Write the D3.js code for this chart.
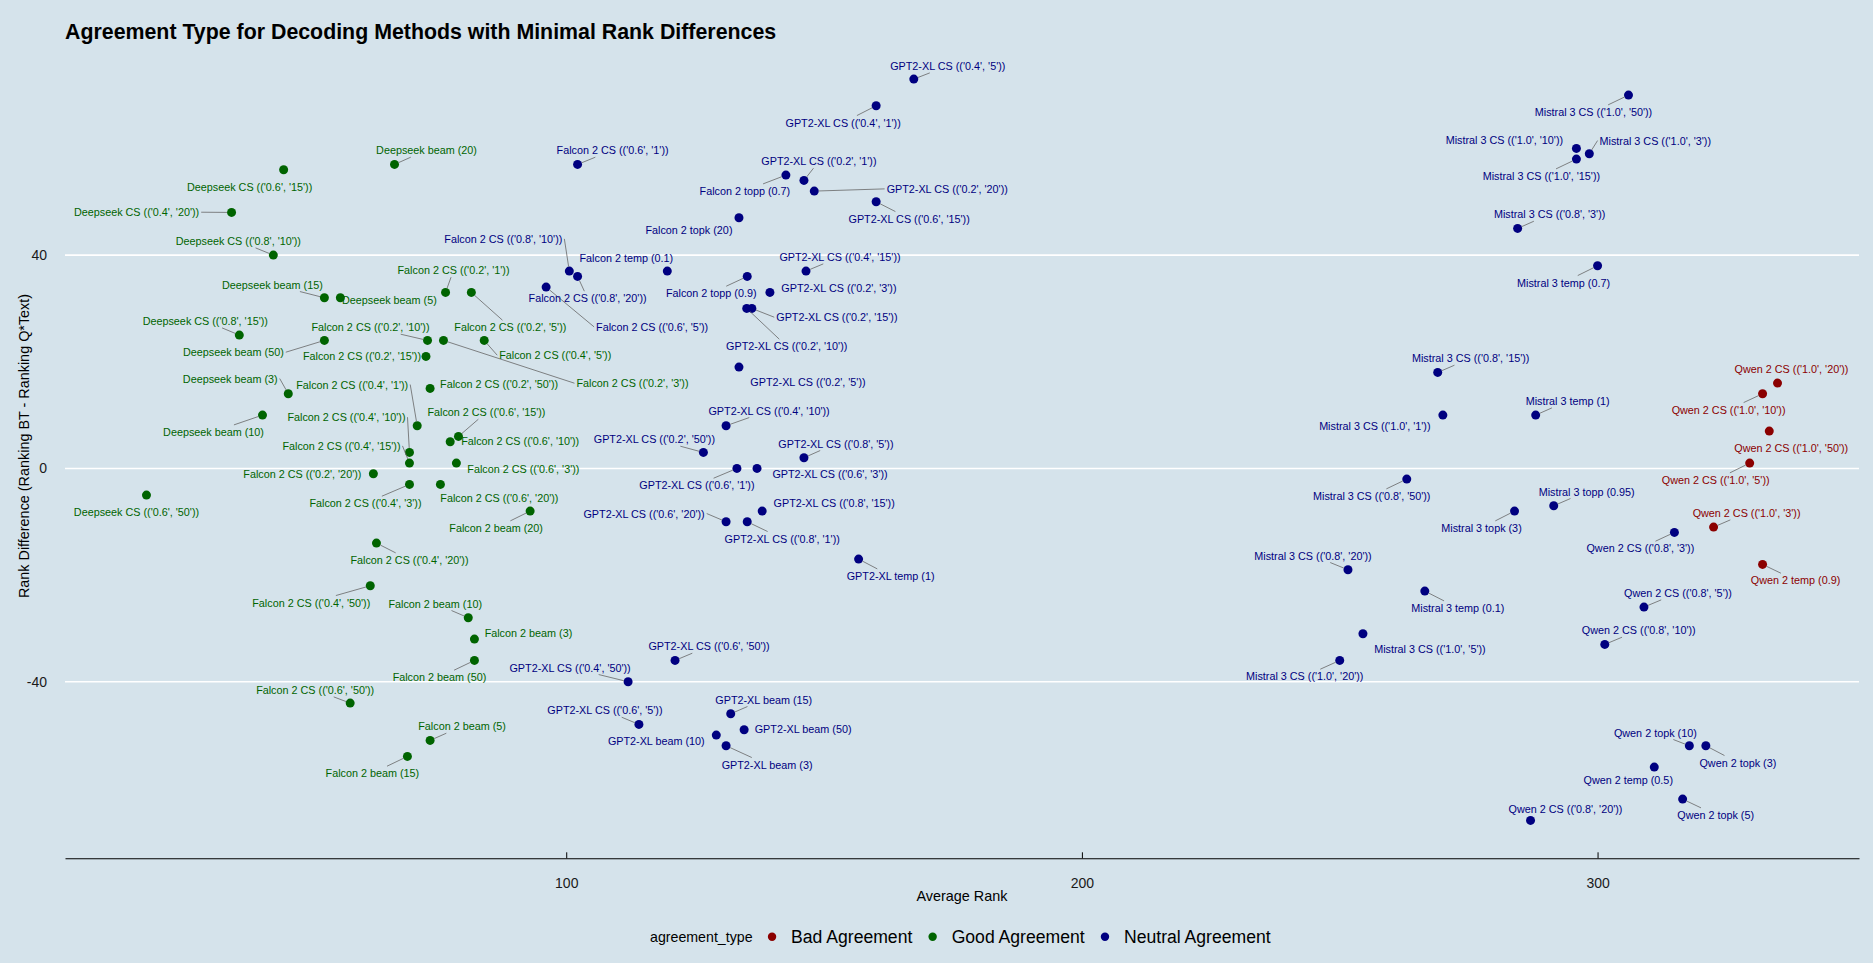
<!DOCTYPE html>
<html>
<head>
<meta charset="utf-8">
<script src="https://cdn.jsdelivr.net/npm/d3@7"></script>
<style>
    body { margin: 0; background: #d5e3eb; }
    text { font-family: "Liberation Sans", Arial, sans-serif; }
</style>
</head>
<body>
<div id="chart"></div>
<script>
// Decoding methods (one entry per point)
var methods = [
    "Deepseek CS (('0.6', '15'))", "Deepseek beam (20)", "Deepseek CS (('0.4', '20'))",
    "Deepseek CS (('0.8', '10'))", "Deepseek beam (15)", "Deepseek beam (5)",
    "Falcon 2 CS (('0.2', '1'))", "Falcon 2 CS (('0.2', '5'))", "Deepseek CS (('0.8', '15'))",
    "Deepseek beam (50)", "Falcon 2 CS (('0.2', '10'))", "Falcon 2 CS (('0.2', '15'))",
    "Falcon 2 CS (('0.2', '3'))", "Falcon 2 CS (('0.4', '5'))", "Deepseek beam (3)",
    "Falcon 2 CS (('0.4', '1'))", "Falcon 2 CS (('0.2', '50'))", "Deepseek beam (10)",
    "Falcon 2 CS (('0.4', '10'))", "Falcon 2 CS (('0.4', '15'))", "Falcon 2 CS (('0.6', '15'))",
    "Falcon 2 CS (('0.6', '10'))", "Falcon 2 CS (('0.6', '3'))", "Falcon 2 CS (('0.2', '20'))",
    "Falcon 2 CS (('0.4', '3'))", "Falcon 2 CS (('0.6', '20'))", "Falcon 2 beam (20)",
    "Deepseek CS (('0.6', '50'))", "Falcon 2 CS (('0.4', '20'))", "Falcon 2 CS (('0.4', '50'))",
    "Falcon 2 beam (10)", "Falcon 2 beam (3)", "Falcon 2 beam (50)",
    "Falcon 2 CS (('0.6', '50'))", "Falcon 2 beam (5)", "Falcon 2 beam (15)",
    "GPT2-XL CS (('0.4', '5'))", "GPT2-XL CS (('0.4', '1'))", "Falcon 2 CS (('0.6', '1'))",
    "GPT2-XL CS (('0.2', '1'))", "Falcon 2 topp (0.7)", "GPT2-XL CS (('0.2', '20'))",
    "GPT2-XL CS (('0.6', '15'))", "Falcon 2 topk (20)", "Falcon 2 CS (('0.8', '10'))",
    "Falcon 2 CS (('0.8', '20'))", "Falcon 2 temp (0.1)", "Falcon 2 CS (('0.6', '5'))",
    "GPT2-XL CS (('0.4', '15'))", "Falcon 2 topp (0.9)", "GPT2-XL CS (('0.2', '3'))",
    "GPT2-XL CS (('0.2', '15'))", "GPT2-XL CS (('0.2', '10'))", "GPT2-XL CS (('0.2', '5'))",
    "GPT2-XL CS (('0.4', '10'))", "GPT2-XL CS (('0.2', '50'))", "GPT2-XL CS (('0.8', '5'))",
    "GPT2-XL CS (('0.6', '1'))", "GPT2-XL CS (('0.6', '3'))", "GPT2-XL CS (('0.8', '15'))",
    "GPT2-XL CS (('0.6', '20'))", "GPT2-XL CS (('0.8', '1'))", "GPT2-XL temp (1)",
    "GPT2-XL CS (('0.6', '50'))", "GPT2-XL CS (('0.4', '50'))", "GPT2-XL CS (('0.6', '5'))",
    "GPT2-XL beam (15)", "GPT2-XL beam (50)", "GPT2-XL beam (10)", "GPT2-XL beam (3)",
    "Mistral 3 CS (('1.0', '50'))", "Mistral 3 CS (('1.0', '10'))", "Mistral 3 CS (('1.0', '3'))",
    "Mistral 3 CS (('1.0', '15'))", "Mistral 3 CS (('0.8', '3'))", "Mistral 3 temp (0.7)",
    "Mistral 3 CS (('0.8', '15'))", "Mistral 3 CS (('1.0', '1'))", "Mistral 3 temp (1)",
    "Mistral 3 CS (('0.8', '50'))", "Mistral 3 topp (0.95)", "Mistral 3 topk (3)",
    "Qwen 2 CS (('0.8', '3'))", "Mistral 3 CS (('0.8', '20'))", "Mistral 3 temp (0.1)",
    "Qwen 2 CS (('0.8', '5'))", "Mistral 3 CS (('1.0', '5'))", "Qwen 2 CS (('0.8', '10'))",
    "Mistral 3 CS (('1.0', '20'))", "Qwen 2 topk (10)", "Qwen 2 topk (3)",
    "Qwen 2 temp (0.5)", "Qwen 2 topk (5)", "Qwen 2 CS (('0.8', '20'))",
    "Qwen 2 CS (('1.0', '20'))", "Qwen 2 CS (('1.0', '10'))", "Qwen 2 CS (('1.0', '50'))",
    "Qwen 2 CS (('1.0', '5'))", "Qwen 2 CS (('1.0', '3'))", "Qwen 2 temp (0.9)"
];

// Average rank (x)
var avgRank = [
    45.2, 66.7, 35.1, 43.2, 53.1, 56.2, 76.6, 81.6, 36.6, 53.1, 73.1, 72.8,
    76.2, 84.1, 46.1, 71.1, 73.6, 41.1, 69.6, 69.6, 79.1, 77.5, 78.7, 62.6,
    69.6, 75.6, 93.0, 18.6, 63.2, 62.0, 81.0, 82.2, 82.2, 58.1, 73.6, 69.2,
    167.4, 160.1, 102.2, 146.1, 142.6, 148.1, 160.1, 133.5, 100.6, 102.2, 119.6, 96.1,
    146.5, 135.1, 139.5, 136.0, 135.0, 133.5, 131.0, 126.6, 146.1, 133.1, 137.0, 138.0,
    131.0, 135.1, 156.7, 121.1, 112.0, 114.1, 131.9, 134.5, 129.1, 131.0,
    306.0, 295.9, 298.4, 295.9, 284.5, 300.0, 269.0, 270.0, 288.0, 263.0, 291.5, 283.9,
    314.9, 251.6, 266.5, 309.0, 254.5, 301.4, 250.0, 317.8, 321.0, 311.0, 316.5, 287.0,
    334.9, 332.0, 333.3, 329.5, 322.5, 332.0
];

// Rank difference (y): Ranking BT - Ranking Q*Text
var rankDiff = [
    56, 57, 48, 40, 32, 32, 33, 33, 25, 24, 24, 21,
    24, 24, 14, 8, 15, 10, 3, 1, 6, 5, 1, -1,
    -3, -3, -8, -5, -14, -22, -28, -32, -36, -44, -51, -54,
    73, 68, 57, 54, 55, 52, 50, 47, 37, 36, 37, 34,
    37, 36, 33, 30, 30, 19, 8, 3, 2, 0, 0, -8,
    -10, -10, -17, -36, -40, -48, -46, -49, -50, -52,
    70, 60, 59, 58, 45, 38, 18, 10, 10, -2, -7, -8,
    -12, -19, -23, -26, -31, -33, -36, -52, -52, -56, -62, -66,
    16, 14, 7, 1, -11, -18
];

// Agreement type per point
var agreement = [].concat(
    d3.range(36).map(() => 'Good Agreement'),
    d3.range(58).map(() => 'Neutral Agreement'),
    d3.range(6).map(() => 'Bad Agreement')
);

var agreementTypes = ['Bad Agreement', 'Good Agreement', 'Neutral Agreement'];
var yTicks = [-40, 0, 40];
var xTicks = [100, 200, 300];

// Label placement (pixel offset of the label centre from its point), like repel output
var labelOffset = [
    [-34, 17], [32, -14], [-95, 0], [-35, -14], [-52, -13], [49, 2],
    [8, -22], [39, 35], [-34, -14], [-91, 12], [-57, -13], [-64, 0],
    [189, 43], [71, 15], [-58, -15], [-65, -41], [69, -4], [-49, 17],
    [-63, -35], [-68, -17], [28, -24], [70, -1], [67, 6], [-71, 0],
    [-44, 19], [59, 14], [-34, 17], [-10, 17], [33, 17], [-59, 17],
    [-33, -14], [54, -6], [-35, 17], [-35, -13], [32, -14], [-35, 17],
    [34, -13], [-33, 17], [35, -14], [15, -19], [-41, 16], [133, -2],
    [33, 17], [-50, 12], [-66, -32], [10, 22], [-41, -13], [106, 40],
    [34, -14], [-36, 17], [69, -4], [85, 9], [40, 38], [69, 15],
    [43, -15], [-49, -13], [32, -14], [-40, 17], [73, 6], [72, -8],
    [-82, -8], [35, 17], [32, 17], [34, -14], [-58, -14], [-34, -14],
    [33, -14], [59, -1], [-60, 6], [41, 19],
    [-35, 17], [-72, -8], [66, -13], [-35, 17], [32, -14], [-34, 17],
    [33, -14], [-68, 11], [32, -14], [-35, 17], [33, -14], [-33, 17],
    [-34, 16], [-35, -14], [33, 17], [34, -14], [67, 15], [34, -14],
    [-35, 16], [-34, -13], [32, 17], [-26, 13], [33, 16], [35, -11],
    [14, -14], [-34, 16], [22, 17], [-34, 17], [33, -14], [33, 16]
];

// Labels drawn without a leader segment
var noLeader = [
    "Deepseek CS (('0.6', '15'))", "Deepseek beam (5)", "Falcon 2 CS (('0.2', '15'))",
    "Falcon 2 CS (('0.2', '50'))", "Falcon 2 CS (('0.6', '10'))", "Falcon 2 CS (('0.6', '3'))",
    "Falcon 2 CS (('0.2', '20'))", "Falcon 2 CS (('0.6', '20'))", "Deepseek CS (('0.6', '50'))",
    "Falcon 2 beam (3)", "Falcon 2 topk (20)", "Falcon 2 temp (0.1)",
    "GPT2-XL CS (('0.2', '3'))", "GPT2-XL CS (('0.2', '5'))", "GPT2-XL CS (('0.6', '3'))",
    "GPT2-XL CS (('0.8', '15'))", "GPT2-XL beam (50)", "GPT2-XL beam (10)",
    "Mistral 3 CS (('1.0', '10'))", "Qwen 2 CS (('1.0', '20'))", "Mistral 3 CS (('1.0', '1'))",
    "Mistral 3 CS (('1.0', '5'))", "Qwen 2 CS (('1.0', '50'))", "Qwen 2 temp (0.5)",
    "Qwen 2 CS (('0.8', '20'))"
];

var data = methods.map((m, i) => ({
    method: m,
    rank: avgRank[i],
    diff: rankDiff[i],
    type: agreement[i],
    off: labelOffset[i]
}));

var chart_width  = 1873;
var chart_height = 963;
var panel = {left: 65, right: 1859, top: 41.4, bottom: 859.2};

var colors = d3.scaleOrdinal()
    .domain(agreementTypes)
    .range(['#8b0000', '#006400', '#000080']);

var svg = d3.select('#chart')
    .append('svg')
    .attr('width', chart_width)
    .attr('height', chart_height);

svg.append('rect')
    .attr('width', chart_width)
    .attr('height', chart_height)
    .attr('fill', '#d5e3eb');

// Scales
var x_scale = d3.scaleLinear()
    .domain([2.8, 350.7])
    .range([panel.left, panel.right]);

var y_scale = d3.scaleLinear()
    .domain([-73.27, 80.07])
    .range([panel.bottom, panel.top]);

// Horizontal grid
svg.append('g').selectAll('line')
    .data(yTicks)
    .enter()
    .append('line')
    .attr('x1', panel.left)
    .attr('x2', panel.right)
    .attr('y1', d => y_scale(d))
    .attr('y2', d => y_scale(d))
    .attr('stroke', '#ffffff')
    .attr('stroke-width', 1.6);

// Y tick labels
svg.append('g').selectAll('text')
    .data(yTicks)
    .enter()
    .append('text')
    .attr('x', 47)
    .attr('y', d => y_scale(d))
    .attr('dy', '0.35em')
    .attr('text-anchor', 'end')
    .attr('font-size', 14)
    .attr('fill', '#1a1a1a')
    .text(d => d);

// X axis
var x_axis = d3.axisBottom(x_scale)
    .tickValues(xTicks)
    .tickSizeInner(-6)
    .tickSizeOuter(0)
    .tickPadding(20);

var gx = svg.append('g')
    .attr('transform', `translate(0, ${panel.bottom - 0.9})`)
    .call(x_axis);
gx.select('.domain').attr('stroke', '#000').attr('stroke-width', 1.1);
gx.selectAll('.tick line').attr('stroke', '#000');
gx.selectAll('.tick text')
    .attr('font-size', 14)
    .attr('font-family', '"Liberation Sans", Arial, sans-serif')
    .attr('fill', '#1a1a1a');

// Axis titles
svg.append('text')
    .attr('x', (panel.left + panel.right) / 2)
    .attr('y', 901)
    .attr('text-anchor', 'middle')
    .attr('font-size', 14.4)
    .attr('fill', '#000')
    .text('Average Rank');

svg.append('text')
    .attr('transform', 'translate(24, 446) rotate(-90)')
    .attr('dy', '0.35em')
    .attr('text-anchor', 'middle')
    .attr('font-size', 14.4)
    .attr('fill', '#000')
    .text('Rank Difference (Ranking BT - Ranking Q*Text)');

// Title
svg.append('text')
    .attr('x', 65)
    .attr('y', 39)
    .attr('font-size', 21.35)
    .attr('font-weight', 'bold')
    .attr('fill', '#000')
    .text('Agreement Type for Decoding Methods with Minimal Rank Differences');

// Points
var r = 4.5;
svg.append('g').selectAll('circle')
    .data(data)
    .enter()
    .append('circle')
    .attr('cx', d => x_scale(d.rank))
    .attr('cy', d => y_scale(d.diff))
    .attr('r', r)
    .attr('fill', d => colors(d.type));

// Labels and their leader segments
var segLayer = svg.append('g');
var labels = svg.append('g').selectAll('text')
    .data(data)
    .enter()
    .append('text')
    .attr('x', d => x_scale(d.rank) + d.off[0])
    .attr('y', d => y_scale(d.diff) + d.off[1])
    .attr('dy', '0.35em')
    .attr('text-anchor', 'middle')
    .attr('font-size', 10.8)
    .attr('fill', d => colors(d.type))
    .text(d => d.method);

labels.each(function(d) {
    if (noLeader.includes(d.method)) return;
    var b = this.getBBox();
    var x1 = b.x - 2, x2 = b.x + b.width + 2;
    var cx = b.x + b.width / 2, cy = b.y + b.height / 2;
    var hh = b.height / 2 + 1;
    var px = x_scale(d.rank), py = y_scale(d.diff);
    var sx, sy;
    if (px < x1) { sx = x1; sy = cy; }
    else if (px > x2) { sx = x2; sy = cy; }
    else {
        // point above/below the label: cut the centre-to-point line at the box edge
        var dy = py - cy, dx = px - cx;
        var t = Math.min(1, hh / Math.abs(dy));
        sx = cx + dx * t;
        sy = cy + dy * t;
    }
    var len = Math.hypot(px - sx, py - sy);
    if (len < r + 2) return;
    var ex = px - (px - sx) / len * r, ey = py - (py - sy) / len * r;
    segLayer.append('line')
        .attr('x1', sx).attr('y1', sy)
        .attr('x2', ex).attr('y2', ey)
        .attr('stroke', '#666')
        .attr('stroke-width', 0.8);
});

// Legend
var legend = svg.append('g');
var lx = 650, ly = 936.7;
var lt = legend.append('text')
    .attr('x', lx)
    .attr('y', ly)
    .attr('dy', '0.35em')
    .attr('font-size', 14.2)
    .attr('fill', '#000')
    .text('agreement_type');
lx += lt.node().getComputedTextLength() + 19.5;
agreementTypes.forEach(function(t) {
    legend.append('circle')
        .attr('cx', lx)
        .attr('cy', ly)
        .attr('r', 4.2)
        .attr('fill', colors(t));
    var tx = legend.append('text')
        .attr('x', lx + 19)
        .attr('y', ly)
        .attr('dy', '0.35em')
        .attr('font-size', 17.6)
        .attr('fill', '#000')
        .text(t);
    lx += 19 + tx.node().getComputedTextLength() + 20.3;
});
</script>
</body>
</html>
